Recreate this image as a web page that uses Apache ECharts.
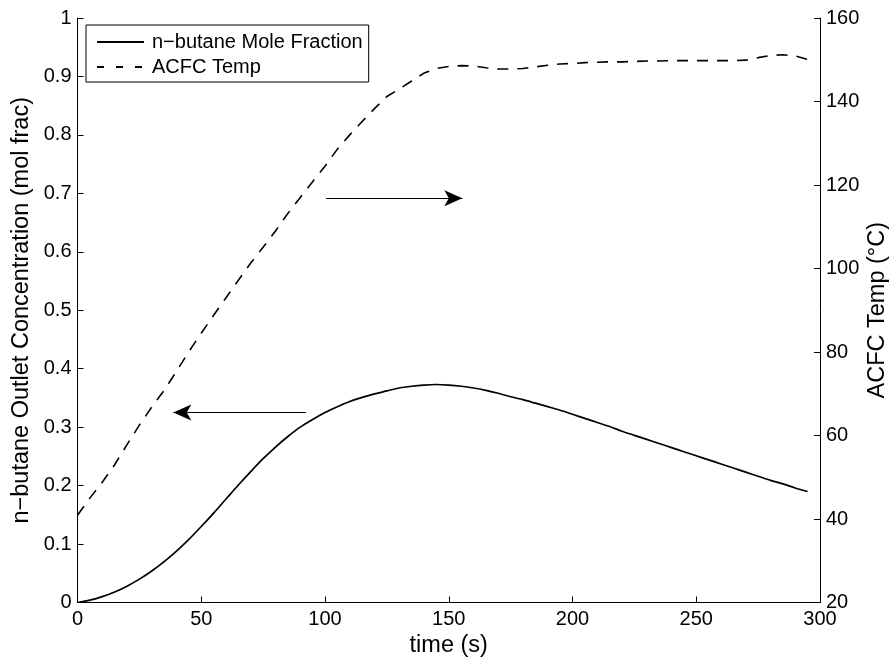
<!DOCTYPE html>
<html>
<head>
<meta charset="utf-8">
<script src="https://cdn.jsdelivr.net/npm/echarts@6/dist/echarts.min.js"></script>
<style>
  html, body { margin: 0; padding: 0; background: #fff; }
  #chart { width: 894px; height: 659px; }
</style>
</head>
<body>
<div id="chart"></div>
<script>
// Time axis (s), sampled every 5 s
const timeS = [
  0, 5, 10, 15, 20, 25, 30, 35, 40, 45,
  50, 55, 60, 65, 70, 75, 80, 85, 90, 95,
  100, 105, 110, 115, 120, 125, 130, 135, 140, 145,
  150, 155, 160, 165, 170, 175, 180, 185, 190, 195,
  200, 205, 210, 215, 220, 225, 230, 235, 240, 245,
  250, 255, 260, 265, 270, 275, 280, 285, 290, 295
];

// n-butane outlet mole fraction
const butaneMoleFrac = [
  0.000, 0.004, 0.010, 0.018, 0.028, 0.040, 0.054, 0.070, 0.088, 0.108,
  0.130, 0.153, 0.177, 0.201, 0.224, 0.246, 0.266, 0.284, 0.300, 0.313,
  0.325, 0.335, 0.344, 0.351, 0.357, 0.362, 0.367, 0.370, 0.372, 0.373,
  0.372, 0.370, 0.367, 0.363, 0.358, 0.352, 0.347, 0.341, 0.335, 0.329,
  0.322, 0.315, 0.308, 0.301, 0.293, 0.286, 0.279, 0.272, 0.265, 0.258,
  0.251, 0.244, 0.237, 0.230, 0.223, 0.216, 0.209, 0.203, 0.196, 0.190
];

// ACFC temperature (°C)
const acfcTemp = [
  40.9, 45.0, 48.8, 53.0, 57.8, 62.5, 66.8, 70.8, 75.4, 80.1,
  84.5, 88.8, 93.0, 97.2, 101.3, 105.1, 109.0, 113.2, 117.0, 120.8,
  124.5, 128.6, 132.0, 135.2, 138.3, 141.2, 143.0, 144.9, 146.8, 147.9,
  148.4, 148.6, 148.5, 148.1, 147.8, 147.8, 147.9, 148.3, 148.7, 149.0,
  149.1, 149.3, 149.4, 149.5, 149.5, 149.6, 149.7, 149.7, 149.8, 149.8,
  149.8, 149.8, 149.8, 149.8, 149.9, 150.5, 151.0, 151.2, 150.9, 150.1
];

// Axis ticks
const xTicks = [0, 50, 100, 150, 200, 250, 300];
const leftTicks = [0, 0.1, 0.2, 0.3, 0.4, 0.5, 0.6, 0.7, 0.8, 0.9, 1];
const rightTicks = [20, 40, 60, 80, 100, 120, 140, 160];

// Annotation arrows, in (time, mole fraction) coordinates: [from, to]
const arrowToTemp = [[100.4, 0.6915], [155.5, 0.6915]];
const arrowToConc = [[92.3, 0.325], [38.7, 0.325]];

const seriesNames = ['n\u2212butane Mole Fraction', 'ACFC Temp'];

const FONT = '"Liberation Sans", Arial, Helvetica, sans-serif';
const INK = '#000';
const TICK_FONT = 20;
const NAME_FONT = 23.5;

const chart = echarts.init(document.getElementById('chart'), null, { renderer: 'canvas' });

const pairs = (xs, ys) => xs.map((x, i) => [x, ys[i]]);
const tickStep = a => a[1] - a[0];

const axisCommon = {
  nameLocation: 'middle',
  nameMoveOverlap: false,
  nameTextStyle: { fontFamily: FONT, fontSize: NAME_FONT, color: INK },
  axisLine: { show: true, onZero: false, lineStyle: { color: INK, width: 1 } },
  axisTick: { show: true, inside: true, length: 6, lineStyle: { color: INK } },
  splitLine: { show: false }
};

chart.setOption({
  animation: false,
  backgroundColor: '#fff',
  textStyle: { fontFamily: FONT, color: INK },
  grid: {
    left: 77.5, right: 74, top: 18, bottom: 56.5,
    containLabel: false,
    outerBoundsMode: 'none'
  },
  legend: {
    orient: 'vertical',
    left: 86,
    top: 25,
    padding: [7, 6, 5, 10],
    itemGap: 5,
    itemWidth: 47,
    itemHeight: 20,
    backgroundColor: '#fff',
    borderColor: INK,
    borderWidth: 1,
    borderRadius: 0,
    selectedMode: false,
    // line samples only, no marker
    itemStyle: { opacity: 0, borderWidth: 0 },
    textStyle: { fontFamily: FONT, fontSize: 20, color: INK, padding: [0, 0, 0, 3] },
    data: [
      { name: seriesNames[0] },
      { name: seriesNames[1], lineStyle: { type: [7, 12] } }
    ]
  },
  xAxis: Object.assign({}, axisCommon, {
    type: 'value',
    min: xTicks[0],
    max: xTicks[xTicks.length - 1],
    interval: tickStep(xTicks),
    name: 'time (s)',
    nameGap: 31,
    axisLabel: { fontFamily: FONT, fontSize: TICK_FONT, color: INK, margin: 7 }
  }),
  yAxis: [
    Object.assign({}, axisCommon, {
      type: 'value',
      position: 'left',
      min: leftTicks[0],
      max: leftTicks[leftTicks.length - 1],
      interval: 0.1,
      name: 'n\u2212butane Outlet Concentration (mol frac)',
      nameGap: 44,
      axisLabel: {
        fontFamily: FONT, fontSize: TICK_FONT, color: INK, margin: 6,
        formatter: v => (v === 0 || v === 1) ? String(v) : v.toFixed(1)
      }
    }),
    Object.assign({}, axisCommon, {
      type: 'value',
      position: 'right',
      min: rightTicks[0],
      max: rightTicks[rightTicks.length - 1],
      interval: tickStep(rightTicks),
      name: 'ACFC Temp (\u00B0C)',
      nameGap: 46,
      axisLabel: { fontFamily: FONT, fontSize: TICK_FONT, color: INK, margin: 6 }
    })
  ],
  series: [
    {
      name: seriesNames[0],
      type: 'line',
      yAxisIndex: 0,
      data: pairs(timeS, butaneMoleFrac),
      showSymbol: false,
      symbol: 'none',
      smooth: 0.3,
      lineStyle: { color: INK, width: 1.7, type: 'solid' },
      itemStyle: { color: INK },
      markLine: {
        silent: true,
        symbol: ['none', 'arrow'],
        symbolSize: [12, 18],
        label: { show: false },
        lineStyle: { color: INK, width: 1, type: 'solid' },
        emphasis: { disabled: true },
        data: [
          [{ coord: arrowToTemp[0] }, { coord: arrowToTemp[1] }],
          [{ coord: arrowToConc[0] }, { coord: arrowToConc[1] }]
        ]
      }
    },
    {
      name: seriesNames[1],
      type: 'line',
      yAxisIndex: 1,
      data: pairs(timeS, acfcTemp),
      showSymbol: false,
      symbol: 'none',
      smooth: false,
      lineStyle: { color: INK, width: 1.6, type: [11, 9] },
      itemStyle: { color: INK }
    }
  ]
});
</script>
</body>
</html>
